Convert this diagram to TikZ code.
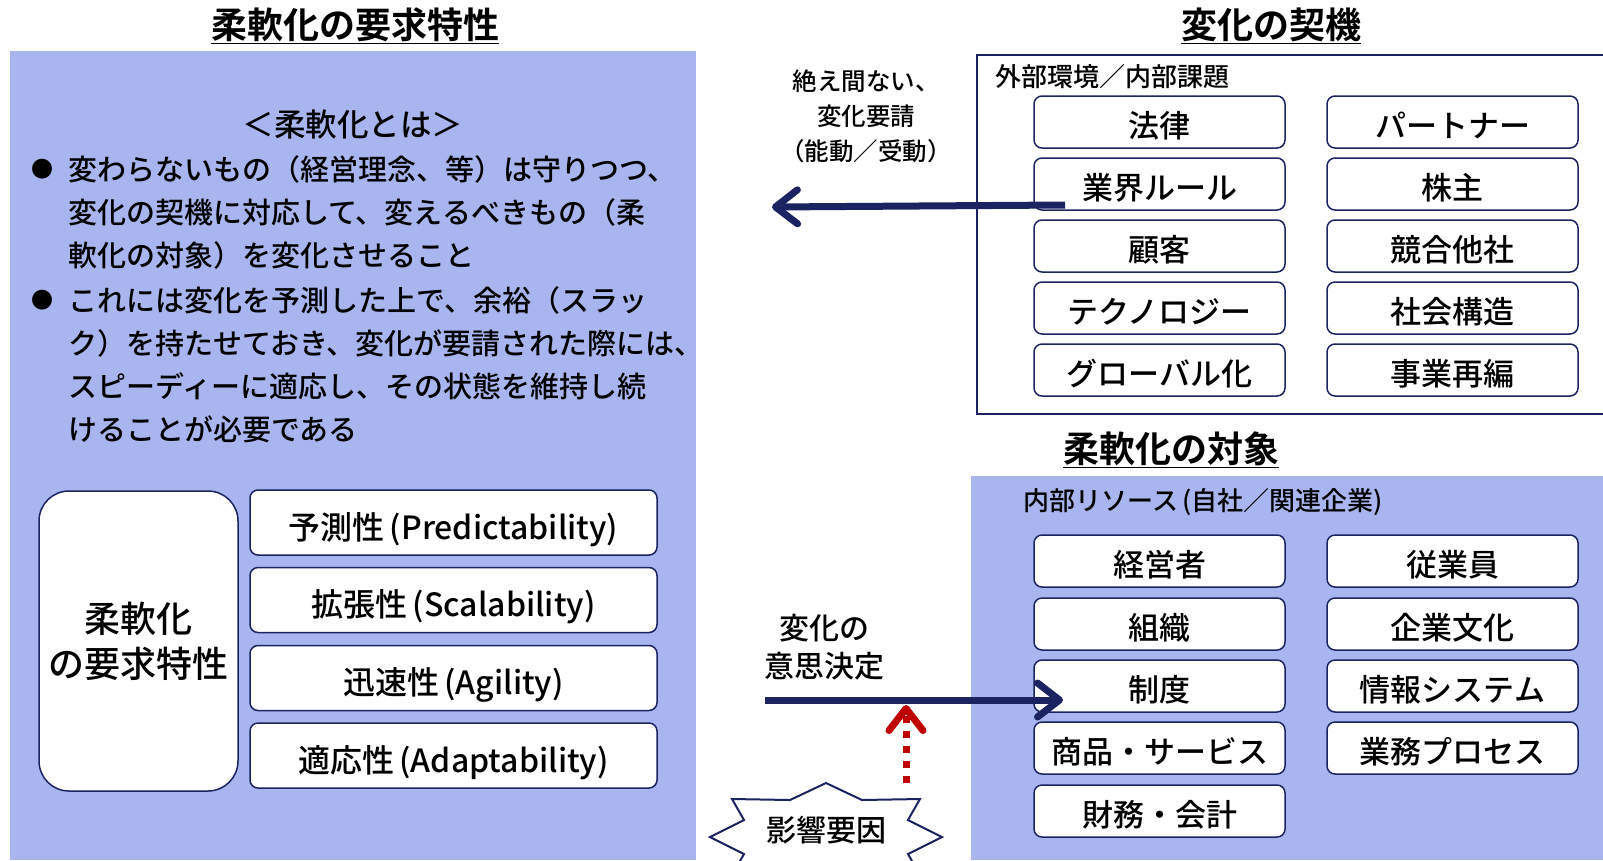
\documentclass[tikz,border=0pt]{standalone}
\usepackage{fontspec}
\setmainfont{Noto Sans CJK JP}[UprightFont={* Medium},BoldFont={* Bold}]
\usetikzlibrary{arrows.meta,positioning}
\definecolor{paleblue}{HTML}{A9B5EE}
\definecolor{darknavy}{HTML}{1B2461}
\definecolor{darkred}{HTML}{C00000}

\begin{document}
\begin{tikzpicture}[x=1pt,y=-1pt,
  itembox/.style={draw=darknavy,line width=1.5pt,fill=white,rounded corners=8pt,minimum width=251pt,minimum height=52pt,inner sep=0pt,text height=33pt,text depth=2pt,font=\fontsize{31}{31}\selectfont},
  reqbox/.style={itembox,minimum width=407pt,minimum height=65pt,text height=35pt,text depth=2pt,font=\fontsize{32}{32}\selectfont},
  heading/.style={font=\fontsize{36}{36}\selectfont\bfseries},
  smalltext/.style={font=\fontsize{26}{35}\selectfont,align=center},
  bodytext/.style={font=\fontsize{29}{43}\selectfont,align=left,inner sep=0pt},
  navyarrow/.style={draw=darknavy,line width=7pt,-{Straight Barb[length=22pt,width=34pt,round]}}]
\path[use as bounding box] (0,0) rectangle (1603,860);
\clip (0,0) rectangle (1603,860);
\fill[white] (0,0) rectangle (1603,860);

% left side
\fill[paleblue] (10,51) rectangle (696,860);
\node[heading] (reqtitle) at (355,26) {\underline{柔軟化の要求特性}};
\node[bodytext,font=\fontsize{31.5}{43}\selectfont] (whatis) at (353,125) {＜柔軟化とは＞};
\node[font=\fontsize{22}{22}\selectfont,inner sep=0pt] (dot1) at (42,169) {●};
\node[bodytext,anchor=west] (point1) at (68,212) {変わらないもの（経営理念、等）は守りつつ、\\変化の契機に対応して、変えるべきもの（柔\\軟化の対象）を変化させること};
\node[font=\fontsize{22}{22}\selectfont,inner sep=0pt] (dot2) at (42,300) {●};
\node[bodytext,anchor=west] (point2) at (68,364.5) {これには変化を予測した上で、余裕（スラッ\\ク）を持たせておき、変化が要請された際には、\\スピーディーに適応し、その状態を維持し続\\けることが必要である};

\node[draw=darknavy,line width=1.5pt,fill=white,rounded corners=30pt,minimum width=199pt,minimum height=300pt,align=center,font=\fontsize{36}{45}\selectfont] (reqall) at (138.5,641) {柔軟化\\の要求特性};
\node[reqbox] (predict) at (453.5,522.5) {予測性\,(Predictability)};
\node[reqbox] (scale) at (453.5,600) {拡張性\,(Scalability)};
\node[reqbox] (agile) at (453.5,678) {迅速性\,(Agility)};
\node[reqbox] (adapt) at (453.5,755.5) {適応性\,(Adaptability)};

% upper right
\node[heading] (trigtitle) at (1271,26) {\underline{変化の契機}};
\draw[darknavy,line width=1.5pt] (1620,55) -- (977,55) -- (977,414) -- (1620,414);
\node[smalltext,anchor=west] (outside) at (992,77) {外部環境／内部課題};
\node[itembox] (law) at (1159.5,122) {法律};
\node[itembox] (rule) at (1159.5,184) {業界ルール};
\node[itembox] (client) at (1159.5,246) {顧客};
\node[itembox] (tech) at (1159.5,308) {テクノロジー};
\node[itembox] (global) at (1159.5,370) {グローバル化};
\node[itembox] (partner) at (1452.5,122) {パートナー};
\node[itembox] (holder) at (1452.5,184) {株主};
\node[itembox] (rival) at (1452.5,246) {競合他社};
\node[itembox] (society) at (1452.5,308) {社会構造};
\node[itembox] (reorg) at (1452.5,370) {事業再編};

% lower right
\node[heading] (tgttitle) at (1171,450) {\underline{柔軟化の対象}};
\fill[paleblue] (971,476) rectangle (1603,860);
\node[smalltext,anchor=west] (inside) at (1020,502) {内部リソース\,(自社／関連企業)};
\node[itembox] (boss) at (1159.5,561) {経営者};
\node[itembox] (org) at (1159.5,624) {組織};
\node[itembox] (system) at (1159.5,686) {制度};
\node[itembox] (product) at (1159.5,748) {商品・サービス};
\node[itembox] (finance) at (1159.5,811) {財務・会計};
\node[itembox] (staff) at (1452.5,561) {従業員};
\node[itembox] (culture) at (1452.5,624) {企業文化};
\node[itembox] (infosys) at (1452.5,686) {情報システム};
\node[itembox] (process) at (1452.5,748) {業務プロセス};

% arrows in the middle
\node[smalltext,font=\fontsize{24.5}{35}\selectfont] (request) at (866,116) {絶え間ない、\\変化要請\\（能動／受動）};
\coordinate (rulefoot) at (1065,205);
\coordinate (leftend) at (772,207);
\draw[navyarrow] (rulefoot) -- (leftend);

\node[smalltext,font=\fontsize{30}{38}\selectfont] (decide) at (824,647) {変化の\\意思決定};
\coordinate (decstart) at (765,700);
\coordinate (systemfoot) at (1063,700);
\draw[navyarrow] (decstart) -- (systemfoot);

\draw[fill=white,draw=darknavy,line width=2pt,shift={(826,837)}] (0,-54) -- (-36,-37) -- (-94,-38) -- (-82,-17) -- (-116,0) -- (-82,17) -- (-94,38) -- (-36,37) -- (0,54) -- (36,37) -- (94,38) -- (82,17) -- (116,0) -- (82,-17) -- (94,-38) -- (36,-37) -- cycle;
\node[font=\fontsize{30}{30}\selectfont] (factor) at (826,830) {影響要因};
\coordinate (factortop) at (906,783);
\coordinate (arrowmeet) at (906,705);
\draw[darkred,line width=7pt,dash pattern=on 7pt off 8pt,-{Straight Barb[length=22pt,width=34pt,round]}] (factortop) -- (arrowmeet);
\end{tikzpicture}
\end{document}
